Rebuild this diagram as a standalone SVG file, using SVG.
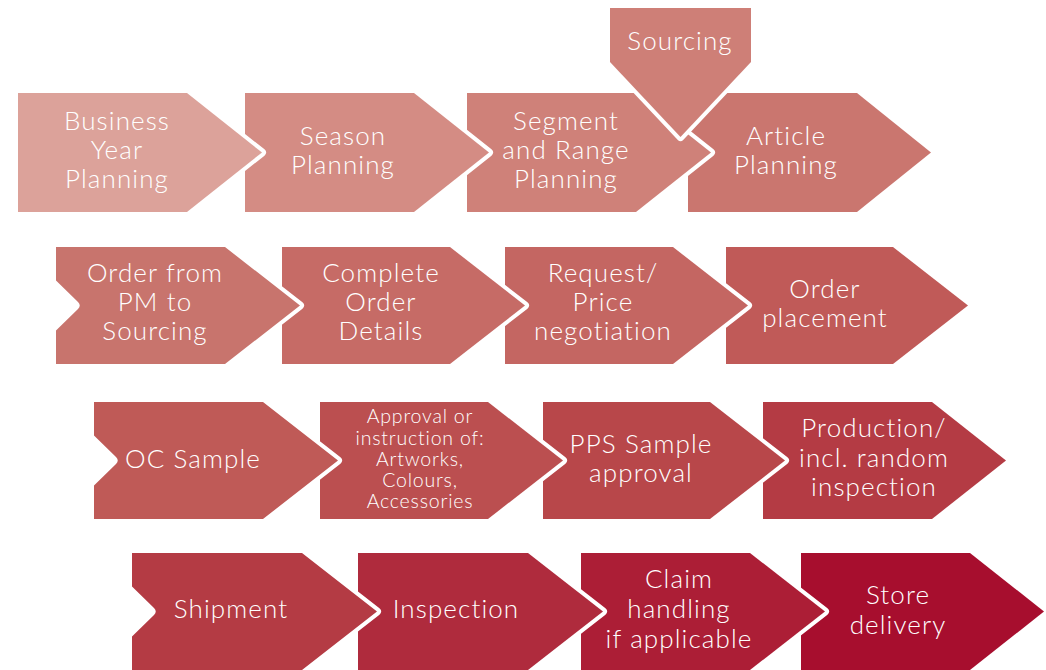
<svg xmlns="http://www.w3.org/2000/svg" width="1046" height="670" viewBox="0 0 1046 670">
<style>
.s{stroke:#fff;stroke-width:8;stroke-linejoin:round;paint-order:stroke}
.t{font-family:Lato,"Open Sans","Liberation Sans",sans-serif;font-weight:300;font-size:26px;letter-spacing:1.1px;fill:#fff;text-anchor:middle}
.sm{font-size:19.5px;letter-spacing:0.8px}
</style>
<rect width="1046" height="670" fill="#fff"/>
<!-- Row 1 (drawn right to left so tips overlap) -->
<g id="article-planning">
<path class="s" fill="#CA766F" d="M688,93 H857 L931,152.5 L857,212 H688 Z"/>
<text class="t" x="786"><tspan x="786" y="145">Article</tspan><tspan x="786" y="174">Planning</tspan></text>
</g>
<g id="segment-range-planning">
<path class="s" fill="#CF8179" d="M467,93 H636 L711,152.5 L636,212 H467 Z"/>
<text class="t"><tspan x="566" y="130">Segment</tspan><tspan x="566" y="159">and Range</tspan><tspan x="566" y="188">Planning</tspan></text>
</g>
<g id="season-planning">
<path class="s" fill="#D48C84" d="M245,93 H414 L489,152.5 L414,212 H245 Z"/>
<text class="t"><tspan x="343" y="145">Season</tspan><tspan x="343" y="174">Planning</tspan></text>
</g>
<g id="business-year-planning">
<path class="s" fill="#DCA29A" d="M18,93 H187 L262,152.5 L187,212 H18 Z"/>
<text class="t"><tspan x="117" y="130">Business</tspan><tspan x="117" y="159">Year</tspan><tspan x="117" y="188">Planning</tspan></text>
</g>
<g id="sourcing">
<path class="s" fill="#CE7F77" d="M610,8 H751 V62 L680.5,137 L610,62 Z"/>
<text class="t" x="680" y="50">Sourcing</text>
</g>
<!-- Row 2 -->
<g id="order-placement">
<path class="s" fill="#C05A58" d="M726,247 H893 L968,305.5 L893,364 H726 Z"/>
<text class="t"><tspan x="825" y="298">Order</tspan><tspan x="825" y="327">placement</tspan></text>
</g>
<g id="request-price-negotiation">
<path class="s" fill="#C46662" d="M505,247 H673 L748,305.5 L673,364 H505 Z"/>
<text class="t"><tspan x="603" y="282">Request/</tspan><tspan x="603" y="311">Price</tspan><tspan x="603" y="340">negotiation</tspan></text>
</g>
<g id="complete-order-details">
<path class="s" fill="#C66B66" d="M282,247 H450 L525,305.5 L450,364 H282 Z"/>
<text class="t"><tspan x="381" y="282">Complete</tspan><tspan x="381" y="311">Order</tspan><tspan x="381" y="340">Details</tspan></text>
</g>
<g id="order-from-pm">
<path class="s" fill="#C8746D" d="M56,247 H225 L300,305.5 L225,364 H56 V330.5 L78,309 Q81.5,305.5 78,302 L56,280.5 Z"/>
<text class="t"><tspan x="155" y="282">Order from</tspan><tspan x="155" y="311">PM to</tspan><tspan x="155" y="340">Sourcing</tspan></text>
</g>
<!-- Row 3 -->
<g id="production">
<path class="s" fill="#B43B44" d="M763,402 H932 L1006,460.5 L932,519 H763 Z"/>
<text class="t"><tspan x="874" y="437">Production/</tspan><tspan x="874" y="467">incl. random</tspan><tspan x="874" y="496">inspection</tspan></text>
</g>
<g id="pps-sample-approval">
<path class="s" fill="#B8474A" d="M543,402 H710 L785,460.5 L710,519 H543 Z"/>
<text class="t"><tspan x="641" y="453">PPS Sample</tspan><tspan x="641" y="482">approval</tspan></text>
</g>
<g id="approval-instruction">
<path class="s" fill="#BB4F50" d="M320,402 H488 L563,460.5 L488,519 H320 Z"/>
<text class="t sm"><tspan x="420" y="423">Approval or</tspan><tspan x="420" y="444.5">instruction of:</tspan><tspan x="420" y="466">Artworks,</tspan><tspan x="420" y="487">Colours,</tspan><tspan x="420" y="508">Accessories</tspan></text>
</g>
<g id="oc-sample">
<path class="s" fill="#BF5A57" d="M94,402 H263 L338,460.5 L263,519 H94 V485.5 L116,464 Q119.5,460.5 116,457 L94,435.5 Z"/>
<text class="t" x="193" y="468">OC Sample</text>
</g>
<!-- Row 4 -->
<g id="store-delivery">
<path class="s" fill="#A70E2E" d="M801,553 H970 L1044,611.5 L970,670 H801 Z"/>
<text class="t"><tspan x="898" y="604">Store</tspan><tspan x="898" y="634">delivery</tspan></text>
</g>
<g id="claim-handling">
<path class="s" fill="#AC1E36" d="M581,553 H750 L825,611.5 L750,670 H581 Z"/>
<text class="t"><tspan x="679" y="588">Claim</tspan><tspan x="679" y="618">handling</tspan><tspan x="679" y="648">if applicable</tspan></text>
</g>
<g id="inspection">
<path class="s" fill="#AF2B3D" d="M358,553 H528 L603,611.5 L528,670 H358 Z"/>
<text class="t" x="456" y="618">Inspection</text>
</g>
<g id="shipment">
<path class="s" fill="#B43B44" d="M132,553 H302 L377,611.5 L302,670 H132 V636.5 L154,615 Q157.5,611.5 154,608 L132,586.5 Z"/>
<text class="t" x="231" y="618">Shipment</text>
</g>
</svg>
